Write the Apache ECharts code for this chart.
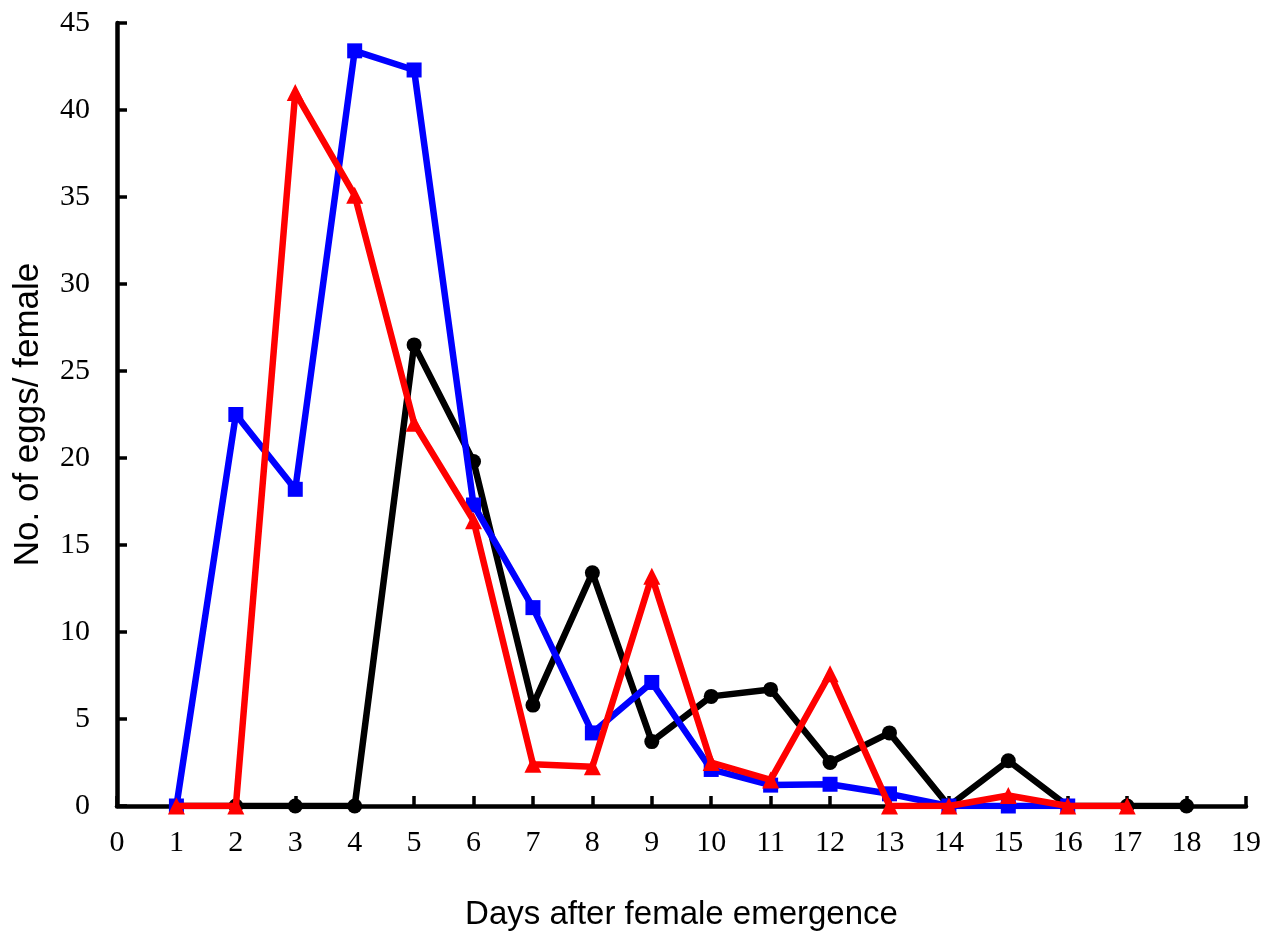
<!DOCTYPE html>
<html><head><meta charset="utf-8">
<script src="https://cdn.jsdelivr.net/npm/echarts@6/dist/echarts.min.js"></script>
<style>html,body{margin:0;padding:0;background:#fff}#c{width:1276px;height:938px}</style>
</head><body><div id="c"></div>
<script>
const blackDays = [1,2,3,4,5,6,7,8,9,10,11,12,13,14,15,16,17,18];
const blackVals = [0,0,0,0,26.5,19.8,5.8,13.4,3.7,6.3,6.7,2.5,4.2,0,2.6,0,0,0];
const blueDays = [1,2,3,4,5,6,7,8,9,10,11,12,13,14,15,16];
const blueVals = [0,22.5,18.2,43.4,42.3,17.3,11.4,4.2,7.1,2.1,1.2,1.25,0.7,0,0,0];
const redDays = [1,2,3,4,5,6,7,8,9,10,11,12,13,14,15,16,17];
const redVals = [0,0,41,35.1,22,16.4,2.4,2.25,13.2,2.5,1.5,7.6,0,0,0.6,0,0];
const xTitle = 'Days after female emergence';
const yTitle = 'No. of eggs/ female';

function pairs(d, v){ return d.map((x,i)=>[x, v[i]]); }
const chart = echarts.init(document.getElementById('c'));
const serif = 'Liberation Serif';
chart.setOption({
  animation:false,
  grid:{left:117, right:30, top:23, bottom:132, containLabel:false},
  xAxis:{type:'value', min:0, max:19, interval:1,
    name:xTitle, nameLocation:'middle', nameGap:92,
    nameTextStyle:{fontFamily:'Liberation Sans', fontSize:33, color:'#000'},
    axisLine:{show:true, onZero:false, lineStyle:{color:'#000', width:4.5}},
    axisTick:{show:true, inside:true, length:10, lineStyle:{color:'#000', width:3.5}},
    axisLabel:{fontFamily:serif, fontSize:30, color:'#000', margin:22},
    splitLine:{show:false}},
  yAxis:{type:'value', min:0, max:45, interval:5,
    name:yTitle, nameLocation:'middle', nameGap:71,
    nameTextStyle:{fontFamily:'Liberation Sans', fontSize:35, color:'#000'},
    axisLine:{show:true, lineStyle:{color:'#000', width:4.5}},
    axisTick:{show:true, inside:true, length:10, lineStyle:{color:'#000', width:3.5}},
    axisLabel:{fontFamily:serif, fontSize:30, color:'#000', margin:27},
    splitLine:{show:false}},
  series:[
    {type:'line', data:pairs(blackDays, blackVals), symbol:'circle', symbolSize:15,
      lineStyle:{color:'#000', width:6.5}, itemStyle:{color:'#000'}, z:2},
    {type:'line', data:pairs(blueDays, blueVals), symbol:'rect', symbolSize:15,
      lineStyle:{color:'#0000ff', width:6.5}, itemStyle:{color:'#0000ff'}, z:3},
    {type:'line', data:pairs(redDays, redVals), symbol:'triangle', symbolSize:17,
      lineStyle:{color:'#ff0000', width:6.5}, itemStyle:{color:'#ff0000'}, z:4}
  ]
});
</script></body></html>
